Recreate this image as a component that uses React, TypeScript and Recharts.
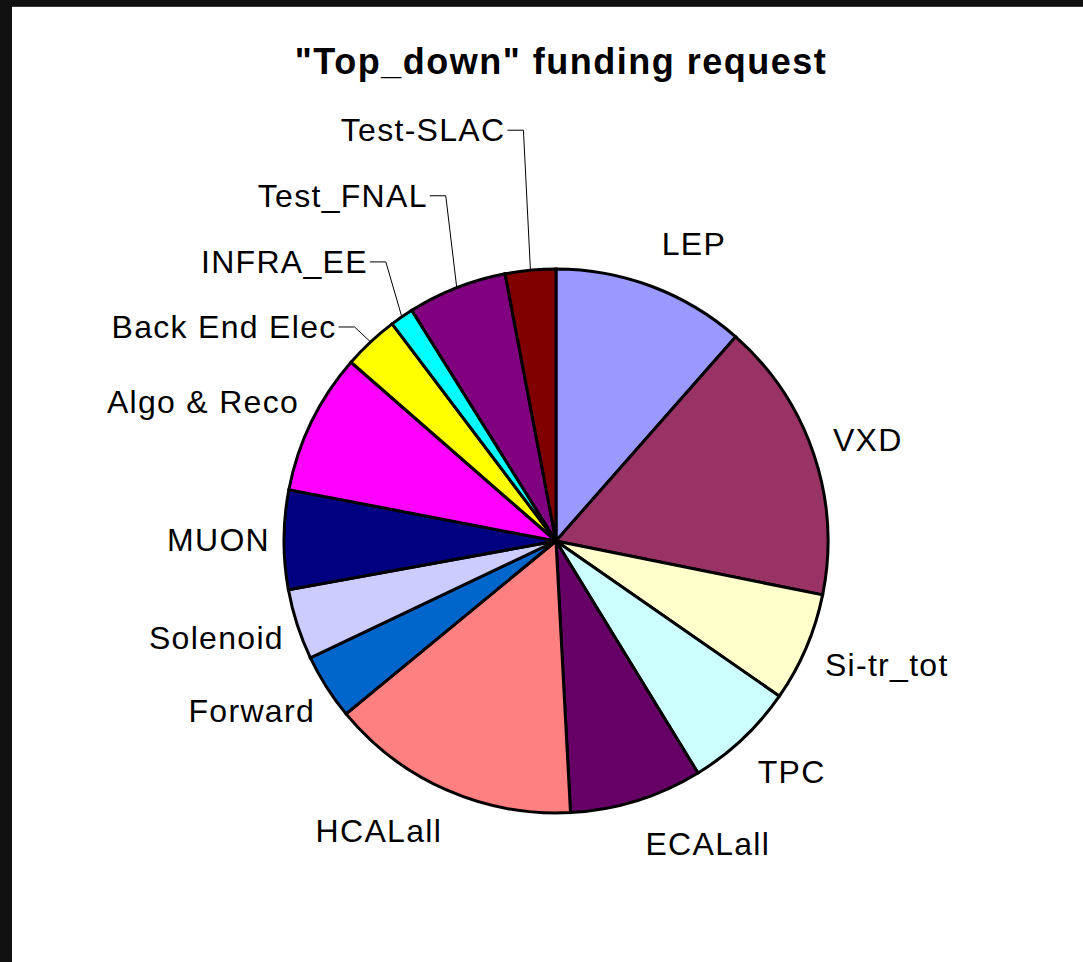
import React from 'react';
import { PieChart, Pie, Cell } from 'recharts';

const CATEGORIES = ['LEP', 'VXD', 'Si-tr_tot', 'TPC', 'ECALall', 'HCALall', 'Forward', 'Solenoid', 'MUON', 'Algo & Reco', 'Back End Elec', 'INFRA_EE', 'Test_FNAL', 'Test-SLAC'];
const FUNDING = [11.5, 16.7, 6.5, 6.6, 7.9, 14.9, 3.9, 4.2, 5.9, 8.4, 3.3, 1.4, 5.9, 3.0];
const COLORS = ['#9999FF', '#993366', '#FFFFCC', '#CCFFFF', '#660066', '#FF8080', '#0066CC', '#CCCCFF', '#000080', '#FF00FF', '#FFFF00', '#00FFFF', '#800080', '#800000'];
// leader-line elbow offsets (from the slice edge) for labels pulled away from the pie; null = label placed next to the pie
const LEADER_ELBOW: ([number, number] | null)[] = [null, null, null, null, null, null, null, null, null, null, [-16, -15], [-16, -55], [-11, -92], [-7, -140]];

const data = CATEGORIES.map((name, i) => ({ name, value: FUNDING[i] }));

const FONT = '"Liberation Sans", Arial, sans-serif';
const LABEL_SIZE = 32;
const LABEL_SPACING = 1.3;

const renderLabel = (p: any) => {
  const { cx, cy, midAngle, outerRadius, index } = p;
  const name = CATEGORIES[index];
  const th = ((90 - midAngle) * Math.PI) / 180; // clockwise from top
  const s = Math.sin(th);
  const c = Math.cos(th);
  const elbow = LEADER_ELBOW[index];
  const common = {
    fontFamily: FONT,
    fontSize: LABEL_SIZE,
    letterSpacing: LABEL_SPACING,
    fill: '#000',
  };
  if (elbow) {
    const ex = cx + outerRadius * s;
    const ey = cy - outerRadius * c;
    const bx = ex + elbow[0];
    const by = ey + elbow[1];
    const tx = bx - 16;
    return (
      <g key={`lbl-${index}`}>
        <polyline points={`${ex},${ey} ${bx},${by} ${tx},${by}`} stroke="#000" strokeWidth={1} fill="none" />
        <text x={tx - 2} y={by} textAnchor="end" dominantBaseline="central" {...common}>
          {name}
        </text>
      </g>
    );
  }
  const r = outerRadius + 16;
  const ax = cx + r * s;
  const ay = cy - r * c;
  const right = s >= 0;
  const x = right ? ax + 4 : ax + 2;
  const y = ay - 29 * c;
  return (
    <text key={`lbl-${index}`} x={x} y={y} textAnchor={right ? 'start' : 'end'} dominantBaseline="central" {...common}>
      {name}
    </text>
  );
};

export default function App() {
  return (
    <div style={{ position: 'absolute', left: 0, top: 0, width: 1083, height: 962, background: '#111', overflow: 'hidden' }}>
      <div style={{ position: 'absolute', left: 12, top: 6, right: 0, bottom: 0, background: '#fff', borderTop: '1px solid #3a3a3a' }} />
      <div
        style={{
          position: 'absolute',
          left: 0,
          width: 1122,
          top: 40,
          textAlign: 'center',
          fontFamily: FONT,
          fontWeight: 'bold',
          fontSize: 36,
          letterSpacing: 1.5,
          lineHeight: '44px',
          color: '#000',
        }}
      >
        "Top_down" funding request
      </div>
      <div style={{ position: 'absolute', left: 0, top: 0 }}>
        <PieChart width={1083} height={962} margin={{ top: 0, right: 0, bottom: 0, left: 0 }}>
          <Pie
            data={data}
            dataKey="value"
            nameKey="name"
            cx={556}
            cy={541}
            outerRadius={272}
            innerRadius={0}
            startAngle={90}
            endAngle={-270}
            stroke="#000"
            strokeWidth={3}
            label={renderLabel}
            labelLine={false}
            isAnimationActive={false}
          >
            {data.map((d, i) => (
              <Cell key={d.name} fill={COLORS[i]} stroke="#000" strokeWidth={3} />
            ))}
          </Pie>
        </PieChart>
      </div>
    </div>
  );
}
